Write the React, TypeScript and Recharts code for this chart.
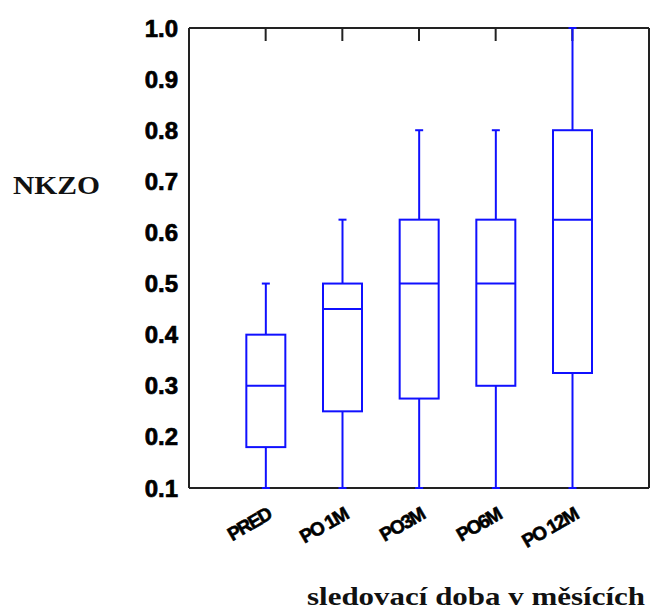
import React from 'react';
import { ComposedChart, Bar, XAxis, YAxis, Customized } from 'recharts';

const categories = ['PRED', 'PO 1M', 'PO3M', 'PO6M', 'PO 12M'];
const positions = [1, 2, 3, 4, 5];
const mins = [0.1, 0.1, 0.1, 0.1, 0.1];
const q1s = [0.18, 0.25, 0.275, 0.3, 0.325];
const medians = [0.3, 0.45, 0.5, 0.5, 0.625];
const q3s = [0.4, 0.5, 0.625, 0.625, 0.8];
const maxs = [0.5, 0.625, 0.8, 0.8, 1.0];
const yTicks = [0.1, 0.2, 0.3, 0.4, 0.5, 0.6, 0.7, 0.8, 0.9, 1.0];

const data = positions.map((pos, i) => ({
  pos,
  name: categories[i],
  min: mins[i],
  q1: q1s[i],
  median: medians[i],
  q3: q3s[i],
  max: maxs[i],
  range: [mins[i], maxs[i]],
}));

const BLUE = '#1010ff';
const AXIS = '#222';

// whole box plot drawn from the bar's range (min..max) pixels
const BoxShape = (props: any) => {
  const { x, y, width, height, payload } = props;
  const { min, q1, median, q3, max } = payload;
  const k = height / (max - min);
  const py = (v: number) => y + (max - v) * k;
  const cx = x + width / 2;
  const cap = 4;
  return (
    <g stroke={BLUE} strokeWidth={2} fill="none">
      <line x1={cx} x2={cx} y1={py(max)} y2={py(q3)} />
      <line x1={cx} x2={cx} y1={py(q1)} y2={py(min)} />
      <line x1={cx - cap} x2={cx + cap} y1={py(max)} y2={py(max)} />
      <line x1={cx - cap} x2={cx + cap} y1={py(min)} y2={py(min)} />
      <rect x={x} y={py(q3)} width={width} height={py(q1) - py(q3)} />
      <line x1={x} x2={x + width} y1={py(median)} y2={py(median)} />
    </g>
  );
};

const XTick = (props: any) => {
  const { x, y, payload } = props;
  const label = categories[positions.indexOf(payload.value)] ?? '';
  const ax = x + 7;
  const ay = y + 22;
  return (
    <text
      x={ax}
      y={ay}
      transform={`rotate(-30, ${ax}, ${ay})`}
      textAnchor="end"
      fontFamily="Liberation Sans, Arial, sans-serif"
      fontWeight="bold"
      fontSize={19}
      letterSpacing={-1.5}
      fill="#000"
      stroke="#000"
      strokeWidth={0.6}
    >
      {label}
    </text>
  );
};

const Titles = () => (
  <g fontFamily="Liberation Serif, Times New Roman, serif" fontWeight="bold" fill="#111">
    <text x={13} y={194} fontSize={26} textLength={87} lengthAdjust="spacingAndGlyphs">
      NKZO
    </text>
    <text x={307} y={605} fontSize={26} textLength={338} lengthAdjust="spacingAndGlyphs">
      sledovací doba v měsících
    </text>
  </g>
);

export default function App() {
  return (
    <div style={{ position: 'absolute', left: 0, top: 0, background: '#fff' }}>
      <ComposedChart
        width={651}
        height={612}
        data={data}
        margin={{ top: 28, right: 2, bottom: 64, left: 129 }}
      >
        <XAxis
          xAxisId="b"
          dataKey="pos"
          type="number"
          domain={[0, 6]}
          ticks={positions}
          orientation="bottom"
          height={60}
          tickLine={false}
          axisLine={{ stroke: AXIS, strokeWidth: 2 }}
          tick={<XTick />}
        />
        <XAxis
          xAxisId="t"
          dataKey="pos"
          type="number"
          domain={[0, 6]}
          ticks={positions}
          orientation="top"
          mirror
          height={30}
          tickSize={13}
          tickFormatter={() => ''}
          tickLine={{ stroke: AXIS, strokeWidth: 2 }}
          axisLine={{ stroke: AXIS, strokeWidth: 2 }}
        />
        <YAxis
          yAxisId="l"
          type="number"
          domain={[0.1, 1.0]}
          ticks={yTicks}
          width={60}
          tickSize={0}
          tickMargin={11}
          tickLine={false}
          tickFormatter={(v: number) => v.toFixed(1)}
          axisLine={{ stroke: AXIS, strokeWidth: 2 }}
          tick={{
            fontFamily: 'Liberation Sans, Arial, sans-serif',
            fontWeight: 'bold',
            fontSize: 24,
            fill: '#000',
            stroke: '#000',
            strokeWidth: 0.7,
          }}
        />
        <YAxis
          yAxisId="lm"
          type="number"
          domain={[0.1, 1.0]}
          ticks={yTicks}
          orientation="left"
          mirror
          width={60}
          tickSize={14}
          tickFormatter={() => ''}
          tickLine={{ stroke: AXIS, strokeWidth: 2 }}
          axisLine={false}
        />
        <YAxis
          yAxisId="r"
          type="number"
          domain={[0.1, 1.0]}
          ticks={yTicks}
          orientation="right"
          mirror
          width={60}
          tickSize={14}
          tickFormatter={() => ''}
          tickLine={{ stroke: AXIS, strokeWidth: 2 }}
          axisLine={{ stroke: AXIS, strokeWidth: 2 }}
        />
        <Bar
          xAxisId="b"
          yAxisId="l"
          dataKey="range"
          barSize={39}
          shape={<BoxShape />}
          isAnimationActive={false}
          {...({ zIndex: 1000 } as any)}
        />
        <Customized component={<Titles />} />
      </ComposedChart>
    </div>
  );
}
